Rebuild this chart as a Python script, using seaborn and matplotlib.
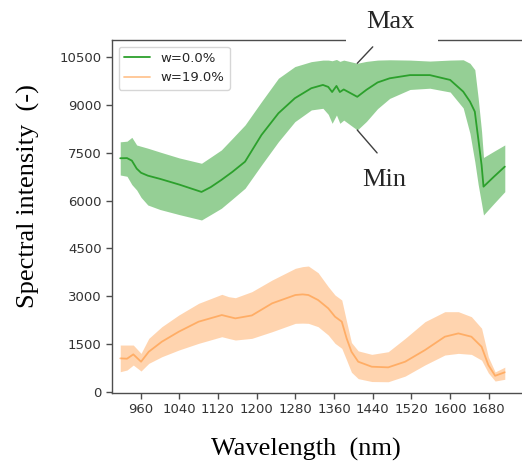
import numpy as np
import pandas as pd
import seaborn as sns
import matplotlib
matplotlib.use("Agg")
import matplotlib.pyplot as plt
from matplotlib.patches import Rectangle

# ---- spectra: mean and min/max envelope for each moisture level ----
wl_dry = [918, 932, 942, 952, 961, 975, 1000, 1040, 1086, 1105, 1127, 1150, 1176,
          1210, 1245, 1279, 1313, 1337, 1348, 1356, 1365, 1372, 1380, 1408, 1427,
          1450, 1475, 1517, 1558, 1600, 1627, 1641, 1651, 1658, 1665, 1669, 1690, 1713]
mean_dry = [7325, 7330, 7250, 7000, 6870, 6780, 6680, 6500, 6270, 6420, 6645, 6900, 7218,
            8055, 8735, 9206, 9519, 9622, 9560, 9400, 9590, 9400, 9480, 9250, 9470,
            9700, 9830, 9930, 9930, 9779, 9413, 9100, 8786, 7952, 7115, 6435, 6740, 7062]
upper_dry = [7840, 7860, 7980, 7740, 7700, 7640, 7520, 7335, 7168, 7360, 7585, 7950, 8368,
             9099, 9832, 10197, 10352, 10400, 10400, 10380, 10420, 10360, 10400, 10300, 10360,
             10400, 10410, 10400, 10370, 10400, 10410, 10300, 10100, 9206, 8160, 7350, 7540, 7742]
lower_dry = [6800, 6760, 6500, 6330, 6100, 5860, 5720, 5560, 5391, 5560, 5758, 6050, 6385,
             7115, 7845, 8472, 8839, 8890, 8700, 8420, 8680, 8420, 8520, 8210, 8480,
             8880, 9200, 9480, 9519, 9400, 8900, 8100, 7218, 6500, 5900, 5548, 5900, 6278]

wl_wet = [918, 932, 945, 961, 977, 1004, 1039, 1080, 1128, 1142, 1156, 1190, 1232, 1280,
          1295, 1307, 1327, 1348, 1362, 1376, 1386, 1396, 1410, 1438, 1472, 1507, 1548,
          1589, 1617, 1644, 1665, 1679, 1693, 1713]
mean_wet = [1056, 1045, 1181, 951, 1264, 1578, 1891, 2205, 2413, 2360, 2309, 2400, 2780, 3040,
            3060, 3040, 2884, 2623, 2361, 2205, 1682, 1264, 951, 794, 774, 951, 1316,
            1734, 1838, 1734, 1420, 846, 510, 620]
upper_wet = [1473, 1473, 1473, 1212, 1682, 2048, 2413, 2780, 3062, 2988, 2956, 3145, 3511, 3877,
             3930, 3949, 3740, 3302, 3040, 2884, 2205, 1550, 1290, 1181, 1264, 1682, 2205,
             2518, 2518, 2361, 2000, 1100, 630, 780]
lower_wet = [637, 690, 846, 659, 899, 1107, 1316, 1526, 1734, 1680, 1630, 1682, 1891, 2153,
             2160, 2153, 2048, 1787, 1526, 1369, 1000, 620, 420, 330, 323, 500, 850,
             1160, 1212, 1180, 1000, 600, 345, 400]

labels = ["w=0.0%", "w=19.0%"]
x_ticks = list(range(960, 1681, 80))
y_ticks = list(range(0, 10501, 1500))

df_dry = pd.DataFrame({"Wavelength": wl_dry, "Intensity": mean_dry})
df_wet = pd.DataFrame({"Wavelength": wl_wet, "Intensity": mean_wet})

sns.set_style("ticks")
plt.rcParams["font.family"] = ["DejaVu Sans"]

fig = plt.figure(figsize=(5.22, 4.65), dpi=100)
ax = fig.add_axes([0.2146, 0.1548, 0.796, 0.7592])

green = "#2ca02c"
orange = "#ff7f0e"

sns.lineplot(data=df_dry, x="Wavelength", y="Intensity", color=green, lw=1.3,
             label=labels[0], ax=ax)
sns.lineplot(data=df_wet, x="Wavelength", y="Intensity", color=orange, lw=1.3,
             alpha=0.45, label=labels[1], ax=ax)
ax.fill_between(wl_dry, lower_dry, upper_dry, color=green, alpha=0.5, lw=0)
ax.fill_between(wl_wet, lower_wet, upper_wet, color=orange, alpha=0.33, lw=0)

ax.set_xlim(901, 1760)
ax.set_ylim(-30, 11030)
ax.set_xticks(x_ticks)
ax.set_yticks(y_ticks)
ax.tick_params(labelsize=9.5, length=4, width=1, colors=".3", labelcolor=".2")
for s in ax.spines.values():
    s.set_color(".3")
    s.set_linewidth(1.0)

serif = ["Liberation Serif", "DejaVu Serif"]
ax.set_xlabel("Wavelength  (nm)", fontsize=19, family=serif, color="black")
ax.set_ylabel("Spectral intensity  (-)", fontsize=19, family=serif, color="black")
ax.xaxis.set_label_coords(0.467, -0.161)
ax.xaxis.label.set_va("center")
ax.yaxis.set_label_coords(-0.202, 0.557)
ax.yaxis.label.set_va("center")

ax.legend(loc="upper left", fontsize=9.5, frameon=True)

# break in the top frame behind the "Max" note
fig.add_artist(Rectangle((0.6628, 1 - 46 / 465), 0.8391 - 0.6628, 14 / 465,
                         transform=fig.transFigure, facecolor="white",
                         edgecolor="none", zorder=5))

# envelope extremes near the water band
i_ext = wl_dry.index(1408)
ax.annotate("", xy=(wl_dry[i_ext], upper_dry[i_ext]), xytext=(1440, 10815),
            arrowprops=dict(arrowstyle="-", color=".25", lw=1, shrinkA=0, shrinkB=0))
ax.annotate("", xy=(wl_dry[i_ext], lower_dry[i_ext]), xytext=(1449, 7492),
            arrowprops=dict(arrowstyle="-", color=".25", lw=1, shrinkA=0, shrinkB=0))
ax.text(1477, 11580, "Max", fontsize=19, family=serif, ha="center", va="center",
        zorder=6, clip_on=False)
ax.text(1463, 6650, "Min", fontsize=19, family=serif, ha="center", va="center")

fig.savefig("out.png", dpi=100)
